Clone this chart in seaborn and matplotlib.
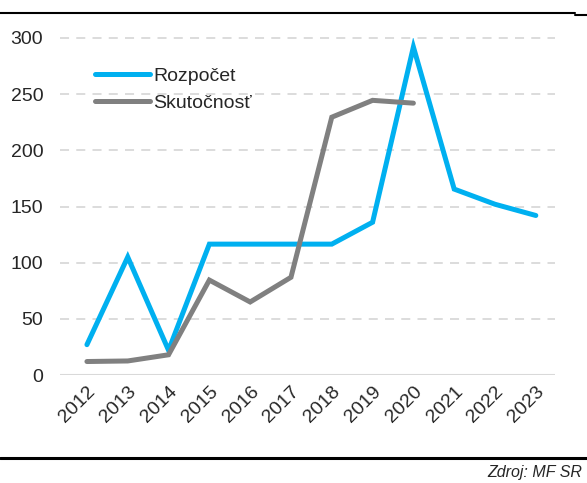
import pandas as pd
import numpy as np
import matplotlib
matplotlib.use('Agg')
import matplotlib.pyplot as plt
import seaborn as sns
from matplotlib.lines import Line2D

years = ['2012', '2013', '2014', '2015', '2016', '2017', '2018', '2019', '2020', '2021', '2022', '2023']
rozpocet = [27, 105, 22, 116.5, 116.5, 116.5, 116.5, 136, 292, 165.5, 152, 142]
skutocnost = [12, 12.5, 18, 84.5, 65, 87, 229.5, 244.5, 242, np.nan, np.nan, np.nan]
yticks = [0, 50, 100, 150, 200, 250, 300]

df = pd.DataFrame({'Rok': years * 2,
                   'Hodnota': rozpocet + skutocnost,
                   'Séria': ['Rozpočet'] * 12 + ['Skutočnosť'] * 12})
df['x'] = list(range(12)) * 2

sns.set_style('white')
plt.rcParams['font.family'] = ['Liberation Sans', 'DejaVu Sans']

fig = plt.figure(figsize=(5.87, 4.83), dpi=100)
ax = fig.add_axes([60 / 587, 108 / 483, (555 - 60) / 587, (375 - 38) / 483])

sns.lineplot(data=df, x='x', y='Hodnota', hue='Séria',
             palette={'Rozpočet': '#00B0F0', 'Skutočnosť': '#808080'},
             linewidth=3.6, ax=ax, solid_capstyle='round', solid_joinstyle='miter')

ax.set_xlim(-0.66, 11.47)
ax.set_ylim(0, 300)
ax.set_yticks(yticks)
ax.set_yticklabels([str(t) for t in yticks], fontsize=14)
ax.set_xticks(range(12))
ax.set_xticklabels(years, rotation=45, fontsize=14, ha='right', rotation_mode='anchor')
ax.tick_params(axis='both', length=0)
ax.tick_params(axis='y', pad=12)
ax.tick_params(axis='x', pad=6)
for y in yticks[1:]:
    ax.axhline(y, color='#d9d9d9', lw=1.3, ls=(0, (5, 4)), zorder=0, clip_on=False)
ax.axhline(0, color='#d9d9d9', lw=1.5, zorder=0)
for s in ax.spines.values():
    s.set_visible(False)
ax.set_xlabel('')
ax.set_ylabel('')

leg = ax.legend(loc='upper left', bbox_to_anchor=(0.056, 0.935), frameon=False, fontsize=14,
                handlelength=2.78, handletextpad=0.2, labelspacing=0.45, borderaxespad=0)
for h in leg.get_lines():
    h.set_linewidth(3.6)
    h.set_solid_capstyle('round')

fig.add_artist(Line2D([0, 575 / 587], [1 - 13 / 483, 1 - 13 / 483], color='black', lw=1.5))
fig.add_artist(Line2D([575 / 587, 1], [1 - 14.5 / 483, 1 - 14.5 / 483], color='black', lw=1.5))
fig.add_artist(Line2D([0, 1], [1 - 458 / 483, 1 - 458 / 483], color='black', lw=2.2))
fig.text(582 / 587, 1 - 472 / 483, 'Zdroj: MF SR', ha='right', va='center', fontsize=11.5, style='italic')

fig.savefig('out.png', dpi=100)
